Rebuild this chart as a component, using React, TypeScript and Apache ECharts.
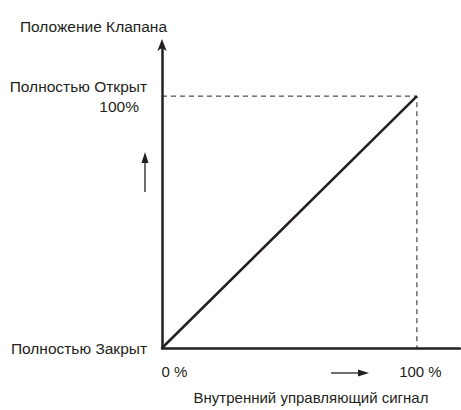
import React, { useEffect, useRef } from "react";
import * as echarts from "echarts";

const yAxisTitle = "Положение Клапана";
const xAxisTitle = "Внутренний управляющий сигнал";
const xTickValues = [0, 100];
const xTickLabels = ["0 %", "100 %"];
const yTickValues = [0, 100];
const yTickLabels = ["Полностью Закрыт", "Полностью Открыт\n100%"];
const signal = [0, 100];
const position = [0, 100];
const openLevel = 100;
const fullSignal = 100;

const INK = "#231f20";
const FONT = "'Liberation Sans', Arial, sans-serif";
const FS = 15;
const FSY = 15.5;

export default function App() {
  const ref = useRef<HTMLDivElement>(null);
  useEffect(() => {
    if (!ref.current) return;
    const chart = echarts.init(ref.current, undefined, { renderer: "svg" });
    const xMax = 116.9;
    const yMax = 120.3;
    chart.setOption({
      animation: false,
      backgroundColor: "#ffffff",
      textStyle: { fontFamily: FONT },
      grid: { left: 162, right: 1, top: 45, bottom: 57, containLabel: false },
      xAxis: {
        type: "value",
        min: 0,
        max: xMax,
        name: xAxisTitle,
        nameLocation: "middle",
        nameGap: 42,
        nameTextStyle: { fontSize: FS, color: INK, fontFamily: FONT },
        splitLine: { show: false },
        axisTick: { show: false },
        axisLine: { show: true, onZero: false, lineStyle: { color: INK, width: 2.5 } },
        axisLabel: {
          customValues: xTickValues,
          margin: 16,
          fontSize: FS,
          color: INK,
          fontFamily: FONT,
          formatter: (v: number) => {
            const i = xTickValues.indexOf(v);
            if (i < 0) return "";
            return i === 0 ? `{a|${xTickLabels[i]}}` : `{b|${xTickLabels[i]}}`;
          },
          rich: {
            a: { fontSize: FS, color: INK, fontFamily: FONT, padding: [0, 0, 0, 25] },
            b: { fontSize: FS, color: INK, fontFamily: FONT, padding: [0, 0, 0, 7] },
          },
        },
      },
      yAxis: {
        type: "value",
        min: 0,
        max: yMax,
        name: yAxisTitle,
        nameLocation: "end",
        nameGap: 11,
        nameTextStyle: { fontSize: 15.5, color: INK, fontFamily: FONT, align: "right", padding: [0, -5, 0, 0] },
        splitLine: { show: false },
        axisTick: { show: false },
        axisLine: {
          show: true,
          onZero: false,
          symbol: ["none", "arrow"],
          symbolSize: [7, 12],
          symbolOffset: [0, 6],
          lineStyle: { color: INK, width: 2.5 },
        },
        axisLabel: {
          customValues: yTickValues,
          margin: 15,
          fontSize: FSY,
          color: INK,
          fontFamily: FONT,
          formatter: (v: number) => {
            const i = yTickValues.indexOf(v);
            if (i < 0) return "";
            const parts = yTickLabels[i].split("\n");
            if (parts.length === 1) return `{a|${parts[0]}}`;
            return `{a|${parts[0]}}\n{b|${parts[1]}}`;
          },
          rich: {
            a: { fontSize: FSY, color: INK, fontFamily: FONT, lineHeight: 20, align: "right" },
            b: { fontSize: FSY, color: INK, fontFamily: FONT, lineHeight: 20, align: "right", padding: [0, 8, 0, 0] },
          },
        },
      },
      series: [
        {
          type: "line",
          data: signal.map((s, i) => [s, position[i]]),
          symbol: "none",
          lineStyle: { color: INK, width: 2.5 },
          silent: true,
        },
        {
          type: "line",
          data: [
            [0, openLevel],
            [fullSignal, openLevel],
            [fullSignal, 0],
          ],
          symbol: "none",
          lineStyle: { color: INK, width: 1, type: [5, 4] },
          silent: true,
          z: 1,
        },
      ],
      graphic: [
        { type: "line", shape: { x1: 145, y1: 192, x2: 145, y2: 160 }, style: { stroke: INK, lineWidth: 1.3 } },
        { type: "polygon", shape: { points: [[145, 152], [141.5, 163], [148.5, 163]] }, style: { fill: INK } },
        { type: "line", shape: { x1: 331, y1: 373, x2: 360, y2: 373 }, style: { stroke: INK, lineWidth: 1.3 } },
        { type: "polygon", shape: { points: [[369, 373], [358, 369.5], [358, 376.5]] }, style: { fill: INK } },
      ],
    });
    return () => chart.dispose();
  }, []);
  return (
    <div
      ref={ref}
      style={{ position: "fixed", left: 0, top: 0, width: 461, height: 410 }}
    />
  );
}
